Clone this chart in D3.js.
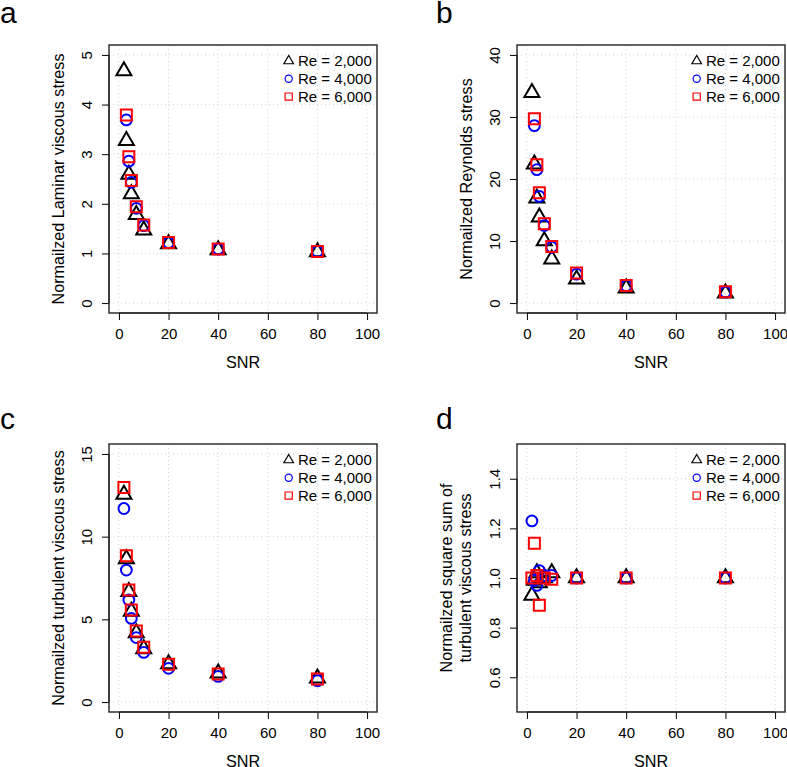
<!DOCTYPE html>
<html>
<head>
<meta charset="utf-8">
<script src="https://cdn.jsdelivr.net/npm/d3@7"></script>
<style>
  html, body { margin: 0; padding: 0; background: #fff; }
  svg { display: block; font-family: "Liberation Sans", Arial, Helvetica, sans-serif; }
</style>
</head>
<body>
<svg id="chart" width="787" height="767"></svg>
<script>
// ---- data ----
const snr = [2, 3, 4, 5, 7, 10, 20, 40, 80];
const seriesNames = ["Re = 2,000", "Re = 4,000", "Re = 6,000"];
const xTicks = [0, 20, 40, 60, 80, 100];

// panel a: Normalized laminar viscous stress
const laminarRe2000 = [4.68, 3.27, 2.59, 2.20, 1.78, 1.47, 1.19, 1.07, 1.03];
const laminarRe4000 = [null, 3.69, 2.86, 2.43, 1.91, 1.56, 1.22, 1.09, 1.04];
const laminarRe6000 = [null, 3.79, 2.95, 2.47, 1.94, 1.575, 1.22, 1.09, 1.04];
const laminarTicks = [0, 1, 2, 3, 4, 5];

// panel b: Normalized Reynolds stress
const reynoldsRe2000 = [33.9, 22.4, 16.9, 13.85, 10.0, 7.08, 3.86, 2.42, 1.6];
const reynoldsRe4000 = [null, 28.6, 21.5, 17.2, 12.5, 9.0, 4.67, 2.79, 1.77];
const reynoldsRe6000 = [null, 29.7, 22.3, 17.8, 12.8, 9.1, 4.83, 2.83, 1.82];
const reynoldsTicks = [0, 10, 20, 30, 40];

// panel c: Normalized turbulent viscous stress
const turbRe2000 = [12.55, 8.65, 6.68, 5.48, 4.18, 3.22, 2.3, 1.75, 1.45];
const turbRe4000 = [11.7, 7.98, 6.17, 5.06, 3.9, 3.0, 2.04, 1.55, 1.29];
const turbRe6000 = [12.97, 8.85, 6.78, 5.57, 4.3, 3.31, 2.28, 1.69, 1.39];
const turbTicks = [0, 5, 10, 15];

// panel d: Normalized square sum of turbulent viscous stress
const sqsumRe2000 = [0.93, 0.99, 1.02, 0.98, 1.0, 1.02, 1.0, 1.0, 1.0];
const sqsumRe4000 = [1.23, 0.99, 0.97, 1.03, 1.01, 1.01, 1.0, 1.0, 1.0];
const sqsumRe6000 = [1.0, 1.14, 1.01, 0.89, 1.0, 0.995, 1.0, 1.0, 1.0];
const sqsumTicks = [0.6, 0.8, 1.0, 1.2, 1.4];

// ---- layout ----
const colors = ["#000000", "#0000FF", "#FF0000"];
const shapes = ["triangle", "circle", "square"];
const size = 268;
const FONT = "Liberation Sans, Arial, Helvetica, sans-serif";
const TICK_FS = 15, LAB_FS = 16.2, LEG_FS = 15;

const panels = [
  { letter: "a", x0: 109, y0: 45, lx: 0, ly: 23, ylim: [0, 5], ticks: laminarTicks, fmt: d3.format("d"),
    label: ["Normailzed Laminar viscous stress"], series: [laminarRe2000, laminarRe4000, laminarRe6000] },
  { letter: "b", x0: 517, y0: 45, lx: 436, ly: 23, ylim: [0, 40], ticks: reynoldsTicks, fmt: d3.format("d"),
    label: ["Normailzed Reynolds stress"], series: [reynoldsRe2000, reynoldsRe4000, reynoldsRe6000] },
  { letter: "c", x0: 109, y0: 444, lx: 0, ly: 429, ylim: [0, 15], ticks: turbTicks, fmt: d3.format("d"),
    label: ["Normailzed turbulent viscous stress"], series: [turbRe2000, turbRe4000, turbRe6000] },
  { letter: "d", x0: 517, y0: 444, lx: 436, ly: 429, ylim: [0.5, 1.5], ticks: sqsumTicks, fmt: d3.format(".1f"),
    label: ["Normailzed square sum of", "turbulent viscous stress"], series: [sqsumRe2000, sqsumRe4000, sqsumRe6000] }
];

const svg = d3.select("#chart");

function symbolPath(shape, s) {
  if (shape === "triangle") {
    const r = s * 1.155;
    const yc = r / 2;
    return `M0,${-r}L${s},${yc}L${-s},${yc}Z`;
  }
  return `M${-s},${-s}H${s}V${s}H${-s}Z`;
}

function drawSymbol(g, shape, color, big, lw) {
  if (shape === "circle") {
    g.append("circle").attr("r", big ? 5.4 : 3.6)
      .attr("fill", "none").attr("stroke", color).attr("stroke-width", lw);
  } else if (shape === "triangle") {
    g.append("path").attr("d", symbolPath("triangle", big ? 7.5 : 4.8))
      .attr("fill", "none").attr("stroke", color).attr("stroke-width", lw);
  } else {
    g.append("path").attr("d", symbolPath("square", big ? 5.5 : 3.6))
      .attr("fill", "none").attr("stroke", color).attr("stroke-width", lw);
  }
}

panels.forEach((p, pi) => {
  const ext = (p.ylim[1] - p.ylim[0]) * 0.04;
  const x = d3.scaleLinear().domain([-4, 104]).range([p.x0, p.x0 + size]);
  const y = d3.scaleLinear().domain([p.ylim[0] - ext, p.ylim[1] + ext]).range([p.y0 + size, p.y0]);
  const g = svg.append("g");

  // panel letter
  svg.append("text").attr("x", p.lx).attr("y", p.ly)
    .attr("font-size", 30).attr("fill", "#000").text(p.letter);

  // grid
  const grid = g.append("g").attr("stroke", "#D3D3D3").attr("stroke-width", 1).attr("stroke-dasharray", "1,3");
  xTicks.forEach(t => {
    grid.append("line").attr("x1", x(t)).attr("x2", x(t)).attr("y1", p.y0).attr("y2", p.y0 + size);
  });
  p.ticks.forEach(t => {
    grid.append("line").attr("x1", p.x0).attr("x2", p.x0 + size).attr("y1", y(t)).attr("y2", y(t));
  });

  // axes
  const xAxis = d3.axisBottom(x).tickValues(xTicks).tickSize(7).tickFormat(d3.format("d"));
  const gx = g.append("g").attr("transform", `translate(0,${p.y0 + size})`).call(xAxis);
  gx.select(".domain").attr("d", `M${x(0)},0H${x(100)}`).attr("stroke-width", 1);
  gx.selectAll(".tick text").attr("font-size", TICK_FS).attr("fill", "#000")
    .attr("font-family", FONT).attr("dy", "0.71em").attr("y", 15);

  const yAxis = d3.axisLeft(y).tickValues(p.ticks).tickSize(7).tickFormat(p.fmt);
  const gy = g.append("g").attr("transform", `translate(${p.x0},0)`).call(yAxis);
  gy.select(".domain").attr("d", `M0,${y(p.ticks[0])}V${y(p.ticks[p.ticks.length - 1])}`).attr("stroke-width", 1);
  gy.selectAll(".tick text").each(function () {
    d3.select(this).attr("x", null).attr("dy", null).attr("text-anchor", "middle")
      .attr("font-size", TICK_FS).attr("fill", "#000").attr("font-family", FONT)
      .attr("transform", "translate(-16.6,0) rotate(-90)");
  });

  // box
  g.append("rect").attr("x", p.x0).attr("y", p.y0).attr("width", size).attr("height", size)
    .attr("fill", "none").attr("stroke", "#222").attr("stroke-width", 1.4);

  // axis titles
  g.append("text").attr("x", x(50)).attr("y", p.y0 + size + 54.5)
    .attr("text-anchor", "middle").attr("font-size", LAB_FS).attr("fill", "#000").text("SNR");
  const cy = p.y0 + size / 2;
  if (p.label.length === 1) {
    g.append("text").attr("transform", `translate(${p.x0 - 45.2},${cy}) rotate(-90)`)
      .attr("text-anchor", "middle").attr("font-size", LAB_FS).attr("fill", "#000").text(p.label[0]);
  } else {
    g.append("text").attr("transform", `translate(${p.x0 - 65},${cy}) rotate(-90)`)
      .attr("text-anchor", "middle").attr("font-size", LAB_FS).attr("fill", "#000").text(p.label[0]);
    g.append("text").attr("transform", `translate(${p.x0 - 45.7},${cy}) rotate(-90)`)
      .attr("text-anchor", "middle").attr("font-size", LAB_FS).attr("fill", "#000").text(p.label[1]);
  }

  // clip
  const clipId = "clip" + pi;
  svg.append("clipPath").attr("id", clipId).append("rect")
    .attr("x", p.x0).attr("y", p.y0).attr("width", size).attr("height", size);
  const pts = g.append("g").attr("clip-path", `url(#${clipId})`);

  p.series.forEach((vals, si) => {
    vals.forEach((v, i) => {
      if (v === null) return;
      const s = pts.append("g").attr("transform", `translate(${x(snr[i])},${y(v)})`);
      drawSymbol(s, shapes[si], colors[si], true, 2);
    });
  });

  // legend
  const legX = p.x0 + size - 88.3;
  const legY = p.y0 + 16;
  seriesNames.forEach((name, si) => {
    const ry = legY + si * 17.8;
    const sg = g.append("g").attr("transform", `translate(${legX},${ry})`);
    drawSymbol(sg, shapes[si], colors[si], false, 1.2);
    g.append("text").attr("x", legX + 9.3).attr("y", ry).attr("dy", "0.36em")
      .attr("font-size", LEG_FS).attr("fill", "#000").text(name);
  });
});
</script>
</body>
</html>
